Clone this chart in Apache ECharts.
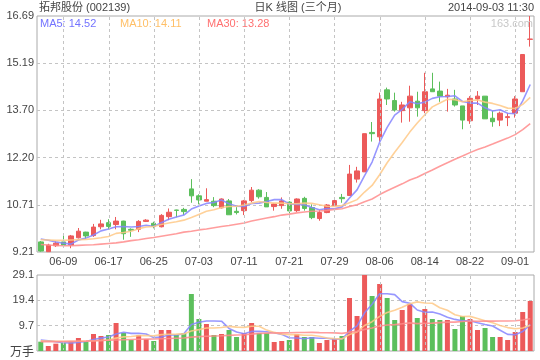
<!DOCTYPE html>
<html><head><meta charset="utf-8">
<script src="https://cdn.jsdelivr.net/npm/echarts@6/dist/echarts.min.js"></script>
<style>html,body{margin:0;padding:0;background:#fff}#c{width:540px;height:360px}</style>
</head><body><div id="c"></div>
<script>
const dates = ['06-04','06-05','06-06','06-09','06-10','06-11','06-12','06-13','06-16','06-17',
'06-18','06-19','06-20','06-23','06-24','06-25','06-26','06-27','06-30','07-01',
'07-02','07-03','07-04','07-07','07-08','07-09','07-10','07-11','07-14','07-15',
'07-16','07-17','07-18','07-21','07-22','07-23','07-24','07-25','07-28','07-29',
'07-30','07-31','08-01','08-04','08-05','08-06','08-07','08-08','08-11','08-12',
'08-13','08-14','08-15','08-18','08-19','08-20','08-21','08-22','08-25','08-26',
'08-27','08-28','08-29','09-01','09-02','09-03'];
const gridDates = ['06-09','06-17','06-25','07-03','07-11','07-21','07-29','08-06','08-14','08-22','09-01'];
const opens = [9.53,9.22,9.41,9.53,9.43,9.66,9.84,9.73,10.01,10.14,
10.08,10.19,9.93,9.93,10.18,10.12,10.01,10.33,10.54,10.56,
11.21,10.99,10.82,10.82,10.61,10.83,10.50,10.52,10.84,11.17,
10.94,10.65,10.68,10.79,10.52,10.91,10.62,10.27,10.46,10.68,
10.94,11.00,11.52,11.75,13.00,12.86,14.35,14.01,13.69,13.78,
13.99,13.69,14.38,14.31,14.13,14.06,13.84,13.37,14.06,14.15,
13.45,13.39,13.47,13.61,14.29,15.95];
const closes = [9.24,9.43,9.49,9.43,9.72,9.87,9.72,10.00,10.10,10.02,
10.19,9.79,9.90,10.18,10.22,10.03,10.37,10.47,10.53,10.49,
10.99,10.86,10.87,10.68,10.89,10.39,10.46,10.83,11.17,10.96,
10.64,10.73,10.83,10.51,10.89,10.59,10.30,10.46,10.70,10.84,
10.90,11.68,11.78,12.96,12.96,14.06,14.06,13.71,13.87,14.15,
13.78,14.29,14.29,14.15,14.18,13.87,13.39,14.08,14.15,13.43,
13.34,13.61,13.50,14.06,15.47,15.96];
const lows = [9.22,9.21,9.37,9.41,9.33,9.64,9.63,9.69,9.93,9.93,
9.93,9.60,9.69,9.84,10.16,9.96,9.99,10.22,10.31,10.38,
10.77,10.72,10.82,10.63,10.59,10.39,10.40,10.38,10.79,10.90,
10.64,10.52,10.58,10.44,10.48,10.52,10.25,10.20,10.44,10.67,
10.77,10.99,11.41,11.75,12.71,12.71,13.87,13.66,13.31,13.34,
13.50,13.61,14.29,13.97,13.66,13.82,13.10,13.27,13.87,13.43,
13.18,13.20,13.20,13.47,14.29,15.72];
const highs = [9.56,9.47,9.55,9.73,9.75,9.97,9.85,10.10,10.23,10.25,
10.32,10.20,9.96,10.22,10.25,10.17,10.41,10.59,10.55,10.61,
11.52,11.04,11.23,10.95,10.91,10.89,10.63,10.86,11.27,11.20,
11.11,10.75,10.94,10.82,10.91,10.96,10.72,10.54,10.73,10.89,
11.05,11.97,11.91,12.96,13.33,14.26,14.42,14.26,13.97,14.48,
14.29,14.89,14.89,14.61,14.38,14.35,13.84,14.15,14.31,14.15,
13.69,13.66,13.61,14.15,15.47,16.69];
const ma5 = [9.62,9.58,9.53,9.49,9.46,9.59,9.65,9.75,9.88,9.94,
10.01,10.02,10.00,10.02,10.06,10.02,10.14,10.25,10.32,10.38,
10.57,10.67,10.75,10.78,10.86,10.74,10.66,10.65,10.75,10.76,
10.81,10.87,10.87,10.73,10.72,10.71,10.62,10.55,10.59,10.58,
10.64,10.92,11.18,11.63,12.06,12.69,13.16,13.55,13.73,13.97,
13.91,13.96,14.08,14.13,14.14,14.16,13.98,13.93,13.93,13.78,
13.68,13.72,13.61,13.59,14.00,14.52];
const ma10 = [9.60,9.59,9.58,9.58,9.59,9.60,9.61,9.63,9.66,9.70,
9.80,9.83,9.87,9.95,10.00,10.02,10.08,10.13,10.17,10.22,
10.30,10.40,10.50,10.55,10.62,10.65,10.66,10.70,10.76,10.81,
10.78,10.76,10.76,10.74,10.74,10.76,10.75,10.71,10.66,10.65,
10.68,10.77,10.87,11.11,11.32,11.66,12.04,12.37,12.68,13.01,
13.30,13.56,13.81,13.93,14.05,14.04,13.97,14.01,14.03,13.96,
13.92,13.85,13.77,13.76,13.89,14.11];
const ma30 = [9.45,9.43,9.42,9.41,9.41,9.42,9.43,9.44,9.46,9.48,
9.50,9.53,9.57,9.60,9.64,9.67,9.71,9.75,9.79,9.84,
9.87,9.91,9.94,9.98,10.02,10.05,10.09,10.13,10.19,10.24,
10.29,10.33,10.38,10.41,10.45,10.48,10.50,10.51,10.53,10.56,
10.58,10.65,10.71,10.80,10.89,11.03,11.15,11.26,11.37,11.49,
11.58,11.70,11.81,11.93,12.04,12.15,12.25,12.36,12.46,12.54,
12.63,12.73,12.82,12.93,13.09,13.28];
const volumes = [3.57,1.91,2.81,3.06,3.83,4.98,3.57,6.51,5.74,6.13,
10.72,6.89,4.21,6.13,4.59,3.83,8.04,8.04,6.13,6.89,
21.82,12.25,10.34,6.13,6.51,8.04,5.36,6.89,10.72,6.89,
6.89,3.45,3.83,4.21,6.51,5.36,5.36,3.06,4.21,4.59,
5.74,20.29,13.40,29.10,21.06,25.65,20.29,11.87,15.70,18.00,
12.64,16.08,12.25,11.87,11.87,8.42,13.40,12.25,8.04,8.81,
5.36,5.36,4.21,7.27,14.93,19.14];
const volMa5 = [4.21,3.90,3.55,3.20,3.04,3.32,3.65,4.39,4.93,5.39,
6.53,7.20,6.74,6.82,6.51,5.13,5.36,6.13,6.13,6.59,
10.18,11.03,11.49,11.49,11.41,8.65,7.28,6.59,7.50,7.58,
7.35,6.97,6.36,5.05,4.98,4.67,5.05,4.90,4.90,4.52,
4.59,7.58,9.65,14.62,17.92,21.90,21.90,21.59,18.91,18.30,
15.70,14.86,14.93,14.17,12.94,12.10,11.56,11.56,10.80,10.18,
9.57,7.96,6.36,6.20,7.43,10.18];
const volMa10 = [3.95,3.85,3.75,3.70,3.70,3.75,3.80,3.95,4.05,4.21,
4.93,5.42,5.56,5.87,5.95,5.83,6.28,6.43,6.47,6.55,
7.66,8.19,8.81,8.81,9.00,9.42,9.15,9.04,9.50,9.50,
8.00,7.12,6.47,6.28,6.28,6.01,6.01,5.63,4.98,4.75,
4.63,6.32,7.27,9.76,11.22,13.25,14.74,15.62,16.77,18.11,
18.80,18.38,18.26,16.54,15.62,13.90,13.21,13.25,12.48,11.56,
10.84,9.76,8.96,8.50,8.81,9.88];
const volMa30 = [3.60,3.60,3.60,3.65,3.70,3.75,3.80,3.90,4.00,4.10,
4.20,4.30,4.40,4.50,4.55,4.60,4.70,4.80,4.90,5.00,
5.30,5.50,5.65,5.75,5.85,6.00,6.10,6.20,6.45,6.75,
6.86,6.91,6.95,6.99,7.07,7.09,7.15,7.03,6.98,6.93,
6.76,7.21,7.52,8.28,8.83,9.56,9.97,10.09,10.41,10.78,
10.48,10.61,10.67,10.86,11.04,11.05,11.32,11.50,11.41,11.47,
11.42,11.49,11.50,11.60,11.88,12.34];
const priceTicks = ['9.21','10.71','12.20','13.70','15.19','16.69'];
const volTicks = ['万手','9.7','19.4','29.1'];

const FONT = "'Liberation Sans','Noto Sans CJK SC',sans-serif";
const UP = '#ec5a5a', DOWN = '#5cbf5c';
const C5 = '#8585ff', C10 = '#ffc987', C30 = '#ff8c8c';
const GRIDC = '#c4c4c4';

const chart = echarts.init(document.getElementById('c'), null, {renderer: 'canvas', width: 540, height: 360});
const candleData = dates.map((d, i) => [opens[i], closes[i], lows[i], highs[i]]);
const volData = volumes.map((v, i) => ({value: v, itemStyle: {color: closes[i] >= opens[i] ? UP : DOWN}}));
function maLine(name, data, color, xi, yi) {
  return {name, type: 'line', data, xAxisIndex: xi, yAxisIndex: yi, symbol: 'none', showSymbol: false,
    lineStyle: {color, width: 1.6, opacity: 0.85}, itemStyle: {color}, z: 3, silent: true};
}
const hideAxis = {axisLine: {show: false}, axisTick: {show: false}, axisLabel: {show: false}, splitLine: {show: false}};
const texts = [
  {type: 'text', x: 39, y: 8, z: 10, style: {text: '拓邦股份 (002139)', fill: '#444', font: '11px ' + FONT, align: 'left', verticalAlign: 'middle'}},
  {type: 'text', x: 298, y: 8, z: 10, style: {text: '日K 线图 (三个月)', fill: '#444', font: '11px ' + FONT, align: 'center', verticalAlign: 'middle'}},
  {type: 'text', x: 534, y: 8, z: 10, style: {text: '2014-09-03 11:30', fill: '#444', font: '11px ' + FONT, align: 'right', verticalAlign: 'middle'}},
  {type: 'text', x: 40, y: 24, z: 10, style: {text: 'MA5: ' + ma5[ma5.length - 1].toFixed(2), fill: '#7373ff', font: '11px ' + FONT, align: 'left', verticalAlign: 'middle'}},
  {type: 'text', x: 120, y: 24, z: 10, style: {text: 'MA10: ' + ma10[ma10.length - 1].toFixed(2), fill: '#ffbf66', font: '11px ' + FONT, align: 'left', verticalAlign: 'middle'}},
  {type: 'text', x: 207, y: 24, z: 10, style: {text: 'MA30: ' + ma30[ma30.length - 1].toFixed(2), fill: '#ff7070', font: '11px ' + FONT, align: 'left', verticalAlign: 'middle'}},
  {type: 'text', x: 533, y: 24, z: 10, style: {text: '163.com', fill: '#c8c8c8', font: '11px ' + FONT, align: 'right', verticalAlign: 'middle'}}
];
chart.setOption({
  animation: false,
  backgroundColor: '#fff',
  textStyle: {fontFamily: FONT},
  grid: [
    {left: 37, right: 6, top: 16, height: 236, show: true, borderColor: '#aaa', borderWidth: 1},
    {left: 37, right: 6, top: 275, height: 76, show: true, borderColor: '#aaa', borderWidth: 1}
  ],
  xAxis: [
    {type: 'category', gridIndex: 0, data: dates, boundaryGap: true,
     axisLine: {show: false}, axisTick: {show: false}, splitLine: {show: false},
     axisLabel: {interval: (i, v) => gridDates.includes(v), color: '#444', fontSize: 11, margin: 4, fontFamily: FONT}},
    Object.assign({type: 'category', gridIndex: 1, data: dates, boundaryGap: true}, hideAxis)
  ],
  yAxis: [
    Object.assign({type: 'value', gridIndex: 0, min: 9.21, max: 16.69, position: 'left'}, hideAxis),
    {type: 'value', gridIndex: 0, min: 0, max: 5, interval: 1, position: 'left', offset: 0,
     axisLine: {show: false}, axisTick: {show: false},
     splitLine: {show: true, showMinLine: false, showMaxLine: false, lineStyle: {color: GRIDC, type: [3, 3], width: 1}},
     axisLabel: {formatter: v => priceTicks[Math.round(v)], color: '#444', fontSize: 11, margin: 3, fontFamily: FONT}},
    Object.assign({type: 'value', gridIndex: 1, min: 0, max: 29.1, position: 'left'}, hideAxis),
    {type: 'value', gridIndex: 1, min: 0, max: 3, interval: 1, position: 'left', offset: 0,
     axisLine: {show: false}, axisTick: {show: false},
     splitLine: {show: true, showMinLine: false, showMaxLine: false, lineStyle: {color: GRIDC, type: [3, 3], width: 1}},
     axisLabel: {formatter: v => Math.round(v) === 0 ? '{u|' + volTicks[0] + '}' : volTicks[Math.round(v)],
       color: '#444', fontSize: 11, margin: 3, fontFamily: FONT,
       rich: {u: {fontSize: 12, color: '#444', fontFamily: FONT, padding: [4, 0, 0, 0]}}}}
  ],
  series: [
    {name: 'K', type: 'candlestick', xAxisIndex: 0, yAxisIndex: 0, data: candleData, barWidth: 5,
     itemStyle: {color: UP, color0: DOWN, borderColor: UP, borderColor0: DOWN, borderWidth: 1}, silent: true, z: 2},
    maLine('MA5', ma5, C5, 0, 0),
    maLine('MA10', ma10, C10, 0, 0),
    maLine('MA30', ma30, C30, 0, 0),
    {name: 'VOL', type: 'bar', xAxisIndex: 1, yAxisIndex: 2, data: volData, barWidth: 5, silent: true, z: 2},
    maLine('VMA5', volMa5, C5, 1, 2),
    maLine('VMA10', volMa10, C10, 1, 2),
    maLine('VMA30', volMa30, C30, 1, 2)
  ],
  graphic: texts
});

// vertical dashed grid lines at the labelled dates, positioned from the category axes / grid layout
function num(v) { return Array.isArray(v) ? v[0] : v; }
function gridRect(gi) {
  try { return chart.getModel().getComponent('grid', gi).coordinateSystem.getRect(); } catch (e) { return null; }
}
function xPix(axisIdx, d) {
  let x = NaN;
  try { x = num(chart.convertToPixel({xAxisIndex: axisIdx}, d)); } catch (e) {}
  if (!isFinite(x)) { try { x = num(chart.convertToPixel({xAxisIndex: axisIdx}, dates.indexOf(d))); } catch (e) {} }
  if (!isFinite(x)) {
    const r = gridRect(axisIdx);
    if (r) x = r.x + (dates.indexOf(d) + 0.5) * r.width / dates.length;
  }
  return x;
}
const dashes = [];
function addLine(x, yTop, yBot) {
  if (!isFinite(x) || !isFinite(yTop) || !isFinite(yBot)) return;
  const xx = Math.round(x) + 0.5;
  dashes.push({type: 'line', z: 50, zlevel: 0, silent: true,
    shape: {x1: xx, y1: yTop, x2: xx, y2: yBot},
    style: {stroke: GRIDC, lineWidth: 1, lineDash: [3, 3]}});
}
const r0 = gridRect(0) || {x: 37, y: 16, width: 497, height: 236};
const r1 = gridRect(1) || {x: 37, y: 275, width: 497, height: 76};
gridDates.forEach(d => {
  addLine(xPix(0, d), r0.y + 1, r0.y + r0.height - 1);
  addLine(xPix(1, d), r1.y + 1, r1.y + r1.height - 1);
});
chart.setOption({graphic: {elements: texts.concat(dashes)}}, {replaceMerge: ['graphic']});
</script></body></html>
